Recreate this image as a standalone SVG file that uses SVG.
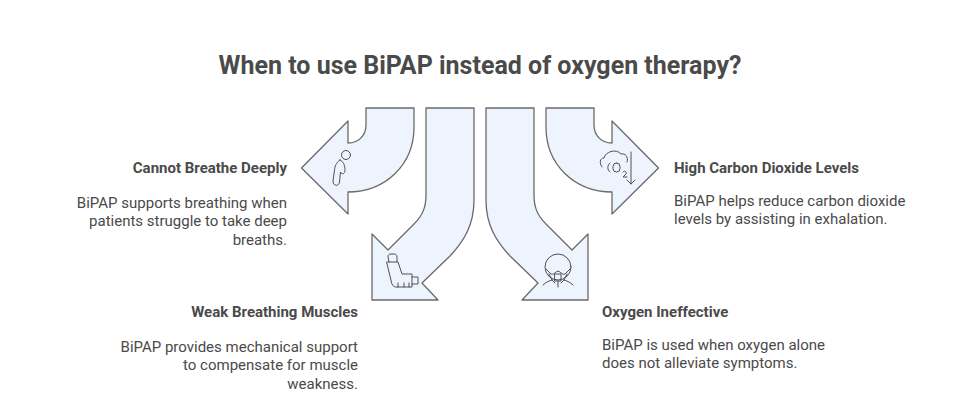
<svg xmlns="http://www.w3.org/2000/svg" width="960" height="404" viewBox="0 0 960 404">
<style>
text{font-family:Roboto,"Liberation Sans",sans-serif;fill:#4a4a4a}
.t{font-size:25px;font-weight:700;text-anchor:middle}
.h{font-size:15px;font-weight:700}
.b{font-size:15px}
.e{text-anchor:end}
.a{fill:#eef4fd;stroke:#6a6a6a;stroke-width:1.3;stroke-linejoin:round}
.i{fill:none;stroke:#505050;stroke-width:1;stroke-linecap:round;stroke-linejoin:round}
</style>
<rect width="960" height="404" fill="#fff"/>
<text class="t" x="480" y="74">When to use BiPAP instead of oxygen therapy?</text>
<g id="connectors"/>
<g id="n1">
<path class="a" d="M366 108H414V127C414 165 385 192 348 192V214L301.500 168L348 121V143C358 143 366 136 366 125Z"/>
<g class="i"><circle cx="346" cy="155" r="4.500"/><path d="M340 160C336 163 335 166 334.500 170L333 181C332.500 186 339 187 339.500 182L340.500 172C342 175 345 174 345 170C345 165 343 161 340 160Z"/></g>
<text class="h e" x="287" y="173">Cannot Breathe Deeply</text>
<text class="b e" x="287" y="208">BiPAP supports breathing when</text>
<text class="b e" x="287" y="226">patients struggle to take deep</text>
<text class="b e" x="287" y="245">breaths.</text>
</g>
<g id="n2">
<path class="a" d="M426 108H474V200C474 225 464 241 450 256L422 283L438 300H372V234L388 250L414 224C423 215 426 207 426 195Z"/>
<g class="i"><path d="M389 262L388 257C388 255 389 254 391 254H394C396 254 397 255 397 257V262"/><path d="M387 262H398L402 274H412V287H396C394 287 393 286 392 284Z"/><path d="M412 277H418V284H412M398 287V283M404 287V283M409 287V283"/></g>
<text class="h e" x="358" y="317">Weak Breathing Muscles</text>
<text class="b e" x="358" y="352">BiPAP provides mechanical support</text>
<text class="b e" x="358" y="370">to compensate for muscle</text>
<text class="b e" x="358" y="389">weakness.</text>
</g>
<g id="n3">
<path class="a" d="M534 108H486V200C486 225 496 241 510 256L538 283L522 300H588V234L572 250L546 224C537 215 534 207 534 195Z"/>
<g class="i"><circle cx="558" cy="267" r="13"/><path d="M546 269L551 274C553 275 555 273 556 272C557 271 559 271 560 272C561 273 563 275 565 274L570 269M549 274L552 280L555 283M567 274L564 280L561 283"/><rect x="555" y="274" width="6" height="7"/><path d="M558 281V287M543 285C546 282 549 281 552 280M573 285C570 282 567 281 564 280"/></g>
<text class="h" x="602" y="317">Oxygen Ineffective</text>
<text class="b" x="602" y="350">BiPAP is used when oxygen alone</text>
<text class="b" x="602" y="368">does not alleviate symptoms.</text>
</g>
<g id="n4">
<path class="a" d="M594 108H546V127C546 165 575 192 612 192V214L658.500 168L612 121V143C602 143 594 136 594 125Z"/>
<g class="i"><path d="M602 167C599 163 600 158 604 158C605 152 616 148 621 154C625 153 629 157 627 162"/><path d="M610 163C607 165 607 170 610 172"/><rect x="613" y="163" width="7" height="9" rx="3.500"/><path d="M623 172C625 170 627 172 626 174L623 177H627"/><path d="M631 152V184M627 180L631 184L635 180"/></g>
<text class="h" x="674" y="173">High Carbon Dioxide Levels</text>
<text class="b" x="674" y="206">BiPAP helps reduce carbon dioxide</text>
<text class="b" x="674" y="224">levels by assisting in exhalation.</text>
</g>
</svg>
